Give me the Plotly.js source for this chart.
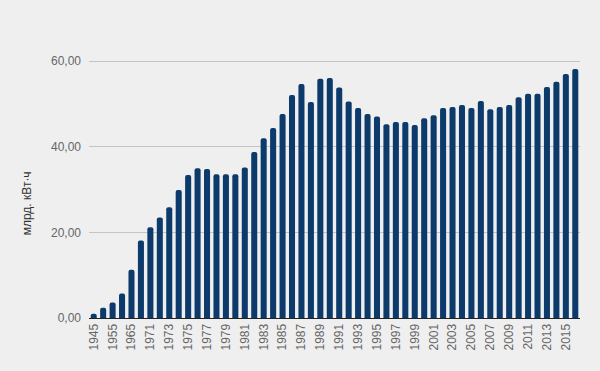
<!DOCTYPE html>
<html>
<head>
<meta charset="utf-8">
<script src="https://cdn.plot.ly/plotly-3.0.1.min.js"></script>
<style>html,body{margin:0;padding:0;background:#efefef;}#chart{width:600px;height:371px;}</style>
</head>
<body>
<div id="chart"></div>
<script>
const years = ['1945','1950','1955','1960','1965','1970','1971','1972','1973','1974','1975','1976','1977','1978','1979','1980','1981','1982','1983','1984','1985','1986','1987','1988','1989','1990','1991','1992','1993','1994','1995','1996','1997','1998','1999','2000','2001','2002','2003','2004','2005','2006','2007','2008','2009','2010','2011','2012','2013','2014','2015','2016'];
const values = [1.0,2.4,3.6,5.7,11.3,18.1,21.2,23.5,25.9,29.9,33.4,35.0,34.8,33.6,33.6,33.6,35.2,38.8,42.0,44.4,47.7,52.1,54.7,50.5,55.9,56.1,53.9,50.6,49.1,47.7,47.1,45.3,45.8,45.8,45.1,46.7,47.4,49.1,49.3,49.8,49.1,50.7,48.8,49.3,49.8,51.6,52.4,52.4,54.0,55.2,57.0,58.2];
const tickLabels = years.filter((y, i) => i % 2 === 0);
const yTicks = [0, 20, 40, 60];
const yTitle = 'млрд. кВт·ч';

Plotly.newPlot('chart', [{
  type: 'bar',
  x: years,
  y: values,
  marker: {color: '#0b3a6b', cornerradius: 2},
  hoverinfo: 'x+y'
}], {
  width: 600, height: 371,
  paper_bgcolor: '#efefef',
  plot_bgcolor: '#efefef',
  margin: {l: 89, r: 20, t: 57, b: 53},
  bargap: 0.36,
  separators: ',.',
  showlegend: false,
  font: {family: 'Liberation Sans, Arial, sans-serif', size: 12, color: '#666'},
  xaxis: {
    type: 'category',
    tickmode: 'array',
    tickvals: tickLabels,
    ticktext: tickLabels,
    tickangle: -90,
    showgrid: false,
    showline: true,
    linecolor: '#222',
    linewidth: 1,
    ticks: '',
    tickfont: {size: 12, color: '#666'},
    range: [-0.5, years.length - 0.5]
  },
  yaxis: {
    range: [0, 61],
    tickmode: 'array',
    tickvals: yTicks,
    tickformat: '.2f',
    showgrid: true,
    gridcolor: '#c4c4c4',
    gridwidth: 1,
    zeroline: false,
    showline: false,
    ticks: '',
    ticklabelstandoff: 7,
    tickfont: {size: 12, color: '#666'}
  },
  annotations: [{
    text: yTitle,
    xref: 'paper', yref: 'paper',
    x: -0.126, y: 0.44,
    xanchor: 'center', yanchor: 'middle',
    textangle: -90,
    showarrow: false,
    font: {size: 12, color: '#333'}
  }]
}, {displayModeBar: false, staticPlot: true});
</script>
</body>
</html>
